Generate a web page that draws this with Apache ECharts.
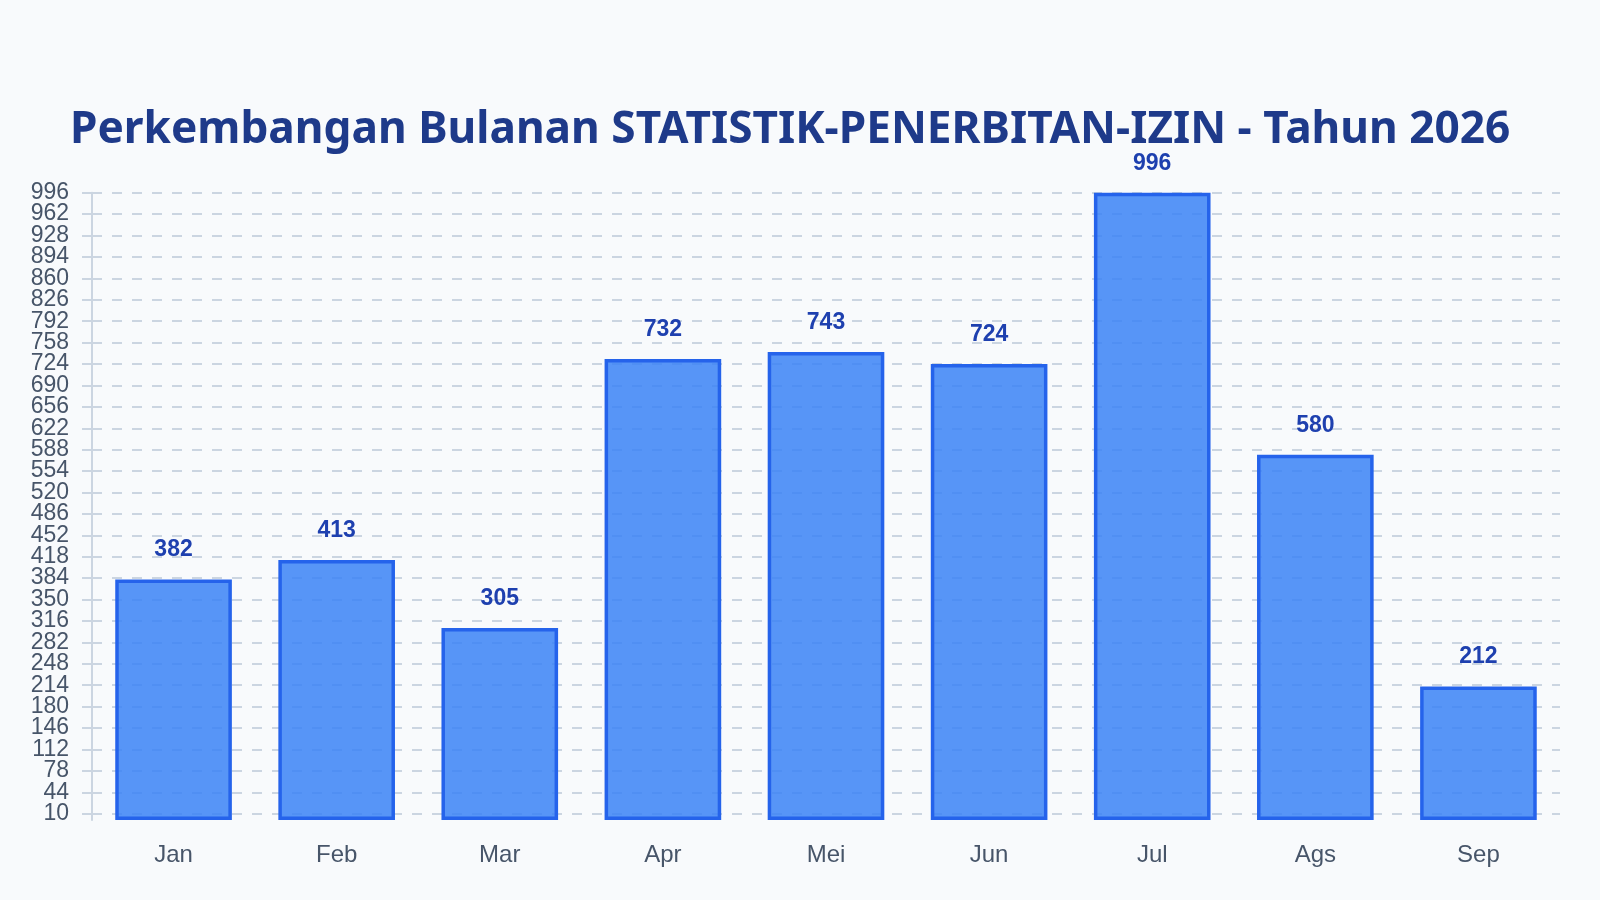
<!DOCTYPE html>
<html>
<head>
<meta charset="utf-8">
<script src="https://cdn.jsdelivr.net/npm/echarts@6/dist/echarts.min.js"></script>
<style>
html,body{margin:0;padding:0;background:#f8fafc;}
#chart{width:1600px;height:900px;}
</style>
</head>
<body>
<div id="chart"></div>
<script>
const titleText = 'Perkembangan Bulanan STATISTIK-PENERBITAN-IZIN - Tahun 2026';
const categories = ['Jan','Feb','Mar','Apr','Mei','Jun','Jul','Ags','Sep'];
const values = [382,413,305,732,743,724,996,580,212];
const yTicks = [10,44,78,112,146,180,214,248,282,316,350,384,418,452,486,520,554,588,622,656,690,724,758,792,826,860,894,928,962,996];

// split labels over two overlaid axes so ECharts does not hide crowded labels
const yTicksEven = yTicks.filter((v, i) => i % 2 === 0);
const yTicksOdd = yTicks.filter((v, i) => i % 2 === 1);

const labelStyle = {
  showMinLabel: true,
  showMaxLabel: true,
  hideOverlap: false,
  margin: 23,
  fontFamily: 'Liberation Sans',
  fontSize: 23,
  color: '#475569'
};

const chart = echarts.init(document.getElementById('chart'));
chart.setOption({
  backgroundColor: '#f8fafc',
  animation: false,
  title: {
    text: titleText,
    left: 70,
    top: 108,
    padding: 0,
    textStyle: {
      fontFamily: 'Noto Sans',
      fontWeight: 'bold',
      fontSize: 44.2,
      color: '#1e3a8a'
    }
  },
  grid: { left: 92, right: 40, top: 192.7, bottom: 80, containLabel: false },
  xAxis: {
    type: 'category',
    data: categories,
    axisLine: { show: false },
    axisTick: { show: false },
    axisLabel: {
      margin: 23,
      fontFamily: 'Liberation Sans',
      fontSize: 24,
      color: '#475569'
    }
  },
  yAxis: [{
    type: 'value',
    min: 0,
    max: 996,
    position: 'left',
    axisLine: { show: true, lineStyle: { color: '#cbd5e1', width: 2 } },
    axisTick: {
      show: true,
      length: 20,
      customValues: yTicks,
      lineStyle: { color: '#cbd5e1', width: 2, type: [10, 10] }
    },
    axisLabel: Object.assign({ customValues: yTicksEven }, labelStyle),
    splitLine: {
      show: true,
      lineStyle: { color: '#cbd5e1', width: 2, type: [10, 10] }
    }
  }, {
    type: 'value',
    min: 0,
    max: 996,
    position: 'left',
    offset: 0,
    axisLine: { show: false },
    axisTick: { show: false },
    splitLine: { show: false },
    axisLabel: Object.assign({ customValues: yTicksOdd }, labelStyle)
  }],
  series: [{
    type: 'bar',
    data: values,
    yAxisIndex: 0,
    barWidth: '71.5%',
    itemStyle: {
      color: 'rgba(59,130,246,0.85)',
      borderColor: '#2563eb',
      borderWidth: 3.5
    },
    label: {
      show: true,
      position: 'top',
      distance: 18,
      fontFamily: 'Liberation Sans',
      fontWeight: 'bold',
      fontSize: 23,
      color: '#1e40af'
    }
  }]
});
</script>
</body>
</html>
